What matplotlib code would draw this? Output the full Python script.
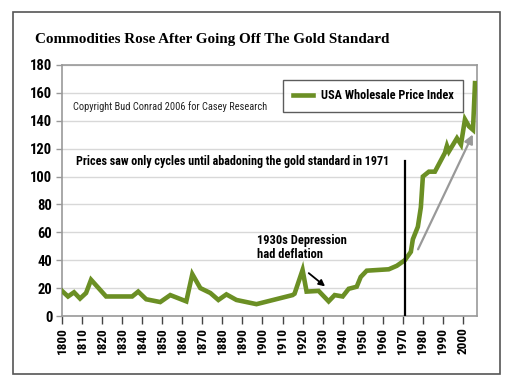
import matplotlib
matplotlib.use("Agg")
import matplotlib.pyplot as plt
from matplotlib.patches import Rectangle

# Data
years = [1800, 1803, 1806, 1809, 1812, 1814.5, 1822, 1835, 1838, 1842,
         1849, 1854, 1862, 1865, 1869, 1874, 1878, 1882, 1887, 1897,
         1915, 1916, 1920, 1922, 1928, 1933, 1936, 1940, 1943, 1947,
         1949, 1952, 1963, 1967, 1971, 1974, 1975, 1977.5, 1979, 1980,
         1983, 1986, 1991, 1992, 1993, 1997, 1999, 2001, 2003, 2005, 2006]
wpi = [18, 14, 17, 12.5, 16.5, 26, 14, 14, 17.5, 12,
       10, 15, 10.5, 30, 20, 16.5, 11.5, 15.5, 11.5, 8.5,
       15, 16, 33, 17.5, 18, 10.5, 15, 14, 19.5, 21,
       28, 32.5, 33.5, 36, 40, 46, 55, 64, 78, 100,
       103.5, 103.5, 117, 122, 118, 127.5, 123, 141, 136, 133.5, 167]

x_ticks = list(range(1800, 2001, 10))
y_ticks = list(range(0, 181, 20))

title = "Commodities Rose After Going Off The Gold Standard"
series_name = "USA Wholesale Price Index"
copyright_note = "Copyright Bud Conrad 2006 for Casey Research"
cycles_note = "Prices saw only cycles until abadoning the gold standard in 1971"
depression_note = "1930s Depression\nhad deflation"

green = "#6b8f24"
narrow = ["Roboto Condensed", "DejaVu Sans"]

fig = plt.figure(figsize=(5.13, 3.84), dpi=100)
fig.patches.append(Rectangle((13 / 513, 1 - 374 / 384), 487 / 513, 362 / 384,
                             transform=fig.transFigure, fill=False,
                             edgecolor="#555555", linewidth=1.2))
fig.text(35 / 513, 1 - 40 / 384, title, family=["Liberation Serif"],
         fontweight="bold", fontsize=10.9, va="center", ha="left")

ax = fig.add_axes([62 / 513, 1 - 316 / 384, 415 / 513, 251 / 384])
ax.set_xlim(1800, 2007)
ax.set_ylim(0, 180)
ax.set_xticks(x_ticks)
ax.set_yticks(y_ticks)
ax.set_xticklabels([str(t) for t in x_ticks], rotation=90, family=narrow,
                   fontweight="bold", fontsize=9.5)
ax.set_yticklabels([str(t) for t in y_ticks], family=narrow,
                   fontweight="bold", fontsize=10.5)
ax.tick_params(axis="x", length=6, width=1, color="#444444", pad=2)
ax.tick_params(axis="y", length=4, width=1, color="#999999", pad=3)
ax.grid(axis="y", color="#d8d8d8", linewidth=1)
ax.set_axisbelow(True)
for s in ax.spines.values():
    s.set_color("#999999")
    s.set_linewidth(1.2)

ax.plot(years, wpi, color=green, linewidth=3.3, solid_joinstyle="miter",
        label=series_name, zorder=3)

# gold standard marker
ax.plot([1971, 1971], [0, 111], color="black", linewidth=1.6, zorder=4)

ax.annotate("", xy=(2005.5, 132), xytext=(1977, 46),
            arrowprops=dict(arrowstyle="-|>", color="#999999", lw=1.6,
                            mutation_scale=13), zorder=4)
ax.annotate("", xy=(1932.3, 20), xytext=(1922, 32),
            arrowprops=dict(arrowstyle="-|>", color="black", lw=1.3,
                            mutation_scale=9), zorder=4)

ax.text(1805.5, 150, copyright_note, family=narrow, fontsize=7.5,
        va="center", ha="left", color="#222222")
ax.text(1807, 110.5, cycles_note, family=narrow, fontweight="bold",
        fontsize=8.7, va="center", ha="left")
ax.text(1897.5, 49, depression_note, family=narrow, fontweight="bold",
        fontsize=9, va="center", ha="left", linespacing=1.1)

leg = ax.legend(loc="upper left", bbox_to_anchor=(0.532, 0.942),
                frameon=True, fancybox=False, handlelength=1.7,
                borderpad=0.8, handletextpad=0.6, borderaxespad=0,
                prop=dict(family=narrow, weight="bold", size=8.8))
leg.get_frame().set_edgecolor("#333333")
leg.get_frame().set_linewidth(1.0)

fig.savefig("out.png", dpi=100)
